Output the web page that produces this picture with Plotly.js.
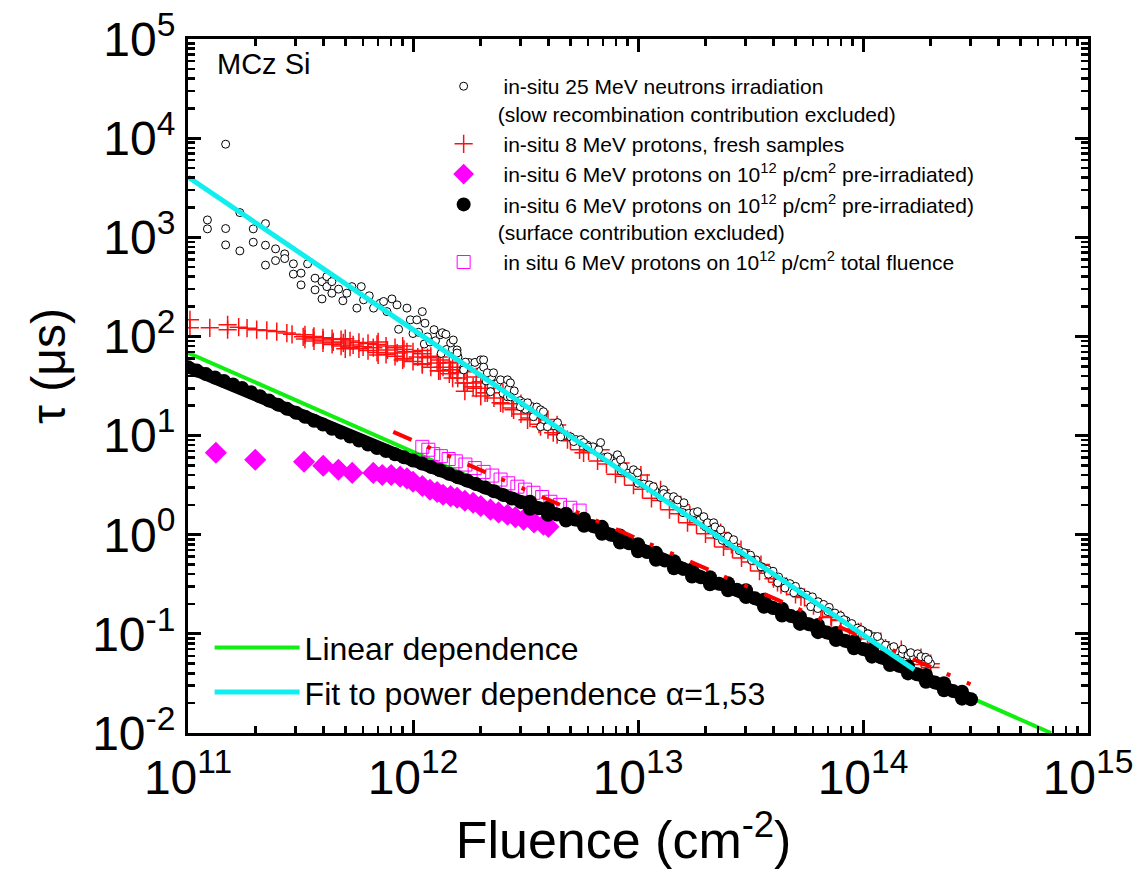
<!DOCTYPE html>
<html>
<head>
<meta charset="utf-8">
<script src="https://cdn.plot.ly/plotly-3.0.1.min.js"></script>
<style>html,body{margin:0;padding:0;background:#fff}#chart{width:1138px;height:876px}</style>
</head>
<body>
<div id="chart"></div>
<script>
// ---- 25 MeV neutrons (open circles): scattered early part ----
const neutronX = [1.22e11,1.22e11,1.47e11,1.47e11,1.47e11,1.70e11,1.70e11,1.95e11,1.95e11,2.21e11,2.21e11,2.21e11,
 2.45e11,2.45e11,2.69e11,2.69e11,2.94e11,2.94e11,3.18e11,3.18e11,3.40e11,3.67e11,3.67e11,3.94e11,3.94e11,4.14e11,4.14e11,
 4.36e11,4.36e11,4.67e11,4.88e11,5.08e11,5.35e11,5.63e11,5.89e11,6.03e11,6.39e11,6.68e11,7.15e11,7.40e11,7.66e11,8.06e11,
 8.49e11,8.63e11,9.40e11,9.73e11,1.04e12,1.10e12,1.13e12,1.16e12,1.24e12,1.32e12,1.35e12,1.40e12,1.47e12,1.51e12,1.57e12,
 1.57e12,1.68e12,1.71e12,2.00e12,2.06e12,2.06e12,2.14e12,2.21e12,2.28e12,2.45e12,2.63e12,2.63e12,2.71e12,2.71e12,3.00e12,
 3.10e12,3.23e12,3.43e12,3.69e12,3.69e12,3.80e12,3.96e12,4.39e12,4.53e12,5.18e12,5.56e12,5.73e12,5.97e12,6.82e12,7.33e12,
 8.10e12,8.37e12,8.63e12,9.55e12,9.95e12,1.17e13,1.30e13,1.30e13,1.35e13,1.44e13,1.50e13,1.60e13,1.77e13,1.84e13,1.96e13,
 2.04e13,2.17e13,2.20e13,2.33e13,2.51e13,2.66e13,2.95e13,3.20e13,3.52e13,3.80e13,4.18e13,4.50e13,4.93e13,5.86e13,6.30e13,
 6.98e13,8.22e13,9.80e13,1.05e14,1.16e14,1.37e14,1.50e14,1.63e14,1.75e14,1.81e14,1.90e14,1.95e14];
const neutronY = [1496,1216,8690,1225,838,1775,729,1216,892,1374,832,524,
 764,582,680,610,540,425,435,331,540,387,295,357,239,318,402,
 357,273,300,229,273,318,193,318,234,257,193,216,225,178,239,
 208,118,193,147,147,178,136,99,117,104,109,105,86,92,73,
 68,46,55,58,58,49,43,27.7,43,36.5,36.5,24.6,34,24.6,19.5,
 21.4,21.4,15.5,18.2,12.3,17.4,12.3,13.5,9.7,8.7,9.1,8.5,7.7,8.5,6.1,
 6.4,5.7,4.85,4.52,4.22,3.05,2.84,2.6,2.42,2.42,2.25,2.1,1.67,1.71,1.52,
 1.32,1.32,1.2,1.12,0.955,0.89,0.66,0.55,0.475,0.40,0.328,0.29,0.26,0.188,0.18,
 0.168,0.139,0.11,0.10,0.094,0.0743,0.07,0.0646,0.063,0.059,0.058,0.055];
// ---- 25 MeV neutrons: dense chain 1e12 .. 2e14 ----
const neutronChainX = [1.000e12,1.059e12,1.122e12,1.189e12,1.259e12,1.334e12,1.413e12,1.496e12,1.585e12,1.679e12,
 1.778e12,1.884e12,1.995e12,2.113e12,2.239e12,2.371e12,2.512e12,2.661e12,2.818e12,2.985e12,
 3.162e12,3.350e12,3.548e12,3.758e12,3.981e12,4.217e12,4.467e12,4.732e12,5.012e12,5.309e12,
 5.623e12,5.957e12,6.310e12,6.683e12,7.079e12,7.499e12,7.943e12,8.414e12,8.913e12,9.441e12,
 1.000e13,1.059e13,1.122e13,1.189e13,1.259e13,1.334e13,1.413e13,1.496e13,1.585e13,1.679e13,
 1.778e13,1.884e13,1.995e13,2.113e13,2.239e13,2.371e13,2.512e13,2.661e13,2.818e13,2.985e13,
 3.162e13,3.350e13,3.548e13,3.758e13,3.981e13,4.217e13,4.467e13,4.732e13,5.012e13,5.309e13,
 5.623e13,5.957e13,6.310e13,6.683e13,7.079e13,7.499e13,7.943e13,8.414e13,8.913e13,9.441e13,
 1.000e14,1.059e14,1.122e14,1.189e14,1.259e14,1.334e14,1.413e14,1.496e14,1.585e14,1.679e14,
 1.778e14,1.884e14,1.995e14];
const neutronChainY = [107,110,83.8,87.9,90.4,67.3,74.0,74.3,62.1,48.4,
 54.5,54.7,44.7,35.6,39.2,33.5,26.7,29.4,28.2,22.5,
 18.4,19.7,19.4,15.8,12.6,12.6,12.1,10.1,9.7,9.1,
 8.5,8.0,7.7,7.2,6.0,5.9,5.3,4.4,4.2,4.05,
 3.3,3.24,3.18,2.78,2.38,2.44,2.34,2.0,1.67,1.64,
 1.61,1.41,1.2,1.12,0.984,0.879,0.826,0.791,0.692,0.649,
 0.622,0.557,0.475,0.446,0.428,0.374,0.334,0.321,0.301,0.263,
 0.246,0.236,0.211,0.198,0.185,0.162,0.152,0.136,0.127,0.114,
 0.107,0.100,0.0938,0.082,0.0769,0.0719,0.0675,0.0632,0.0607,0.058,
 0.0557,0.0522,0.050];

// ---- 8 MeV protons, fresh (red plus) ----
const freshX = [1.02e11,1.02e11,1.25e11,1.50e11,1.50e11,1.68e11,1.83e11,2.02e11,2.24e11,2.48e11,2.75e11,2.90e11,3.25e11,
 3.60e11,3.99e11,4.42e11,4.90e11,5.00e11,5.00e11,5.42e11,6.00e11,6.66e11,7.00e11,7.00e11,7.70e11,8.50e11,9.00e11,9.00e11,
 9.40e11,1.05e12,1.10e12,1.10e12,1.16e12,1.28e12,1.30e12,1.30e12,1.36e12,1.47e12,1.50e12,1.50e12,1.57e12,1.68e12,1.70e12,
 1.70e12,1.85e12,2.00e12,2.00e12,2.14e12,2.45e12,2.80e12,3.23e12,3.69e12,4.20e12,4.86e12,5.73e12,6.82e12,8.37e12,1.03e13,
 1.10e13,1.26e13,1.55e13,1.70e13,1.90e13,2.33e13,2.60e13,2.87e13,3.52e13,4.00e13,4.32e13,5.30e13,6.50e13,7.20e13,7.98e13,
 9.80e13,1.20e14,1.48e14,1.81e14,2.00e14];
const freshY = [147,122,122,131,117,124,121,117,115,112,108,105,99,
 97,92,88,86,95,75,82,78.5,77,88,65,73,68,80,58,
 70,62,72,52,61,54,62,45,49,46,55,38,43,34,45,
 28,31,35,25,27,21.4,18.2,14.4,12.3,10.7,9.1,6.7,7.2,5.3,4.0,
 3.3,2.84,2.0,1.6,1.42,1.05,0.8,0.706,0.5,0.36,0.313,0.237,0.184,0.15,0.139,
 0.105,0.0834,0.0693,0.0575,0.05];
// band of the transition region (upper and lower readings at each fluence)
const freshBandX = [3.31e11,3.63e11,3.98e11,4.37e11,4.79e11,5.25e11,5.75e11,6.31e11,6.92e11,7.59e11,8.32e11,9.12e11,1.00e12,
 1.10e12,1.20e12,1.32e12,1.45e12,1.58e12,1.74e12,1.91e12,2.09e12,2.29e12,2.51e12,2.75e12,3.02e12,3.31e12,3.63e12,3.98e12,4.37e12];
const freshBandHi = [104,100,97,95,93,90,87,85,83,80,77,74,70,67,63,58,54,49,44,39,34,30,27,24,21,19,16.5,14.5,12.8];
const freshBandLo = [94,90,86,83,80,78,75,72,69,66,63,60,56,53,49,45,42,38,34,30,27,24,21,19,16.5,15,13,11.5,10.2];
// descending part, just under the neutron chain
const freshTailX = [5.01e12,5.50e12,6.03e12,6.61e12,7.24e12,7.94e12,8.71e12,9.55e12,1.047e13,1.148e13,1.259e13,1.380e13,
 1.514e13,1.660e13,1.820e13,1.995e13,2.188e13,2.399e13,2.630e13,2.884e13,3.162e13,3.467e13,3.802e13,4.169e13,4.571e13,
 5.012e13,5.495e13,6.026e13,6.607e13,7.244e13,7.943e13,8.710e13,9.550e13,1.047e14,1.148e14,1.259e14,1.380e14,1.514e14,
 1.660e14,1.820e14,1.995e14];
const freshTailY = [8.87,7.18,7.0,5.55,5.16,4.08,3.89,3.16,2.87,2.33,2.22,1.79,
 1.63,1.32,1.26,1.02,0.929,0.753,0.718,0.582,0.53,0.43,0.409,0.331,0.301,
 0.25,0.233,0.193,0.176,0.146,0.136,0.112,0.105,0.0889,0.0809,0.0718,0.0638,0.058,
 0.0528,0.0492,0.0457];

// ---- 6 MeV protons on pre-irradiated (magenta diamonds) ----
const preX = [1.33e11,1.99e11,3.28e11,3.99e11,4.66e11,5.37e11,6.66e11,7.30e11,8.00e11,8.77e11,9.40e11,1.00e12,1.10e12,
 1.19e12,1.28e12,1.36e12,1.47e12,1.57e12,1.70e12,1.85e12,2.00e12,2.21e12,2.40e12,2.63e12,2.85e12,3.10e12,3.45e12,3.80e12,4.00e12];
const preY = [6.7,5.7,5.44,4.97,4.52,4.2,4.2,4.0,4.0,3.85,3.7,3.42,3.1,
 2.84,2.7,2.53,2.45,2.36,2.2,2.1,1.95,1.79,1.68,1.59,1.5,1.42,1.33,1.26,1.2];

// ---- 6 MeV protons, surface contribution excluded (black dots) ----
const surfX = [1.000e11,1.096e11,1.202e11,1.318e11,1.445e11,1.585e11,1.738e11,1.905e11,2.089e11,2.291e11,2.512e11,2.754e11,
 3.020e11,3.311e11,3.631e11,3.981e11,4.365e11,4.786e11,5.248e11,5.754e11,6.310e11,6.918e11,7.586e11,8.318e11,9.120e11,
 1.000e12,1.096e12,1.202e12,1.318e12,1.445e12,1.585e12,1.738e12,1.905e12,2.089e12,2.291e12,2.512e12,2.754e12,
 3.020e12,3.311e12,3.631e12,3.981e12,4.365e12,4.786e12,5.248e12,5.754e12,6.310e12,6.918e12,7.586e12,8.318e12,9.120e12,
 1.000e13,1.096e13,1.202e13,1.318e13,1.445e13,1.585e13,1.738e13,1.905e13,2.089e13,2.291e13,2.512e13,2.754e13,
 3.020e13,3.311e13,3.631e13,3.981e13,4.365e13,4.786e13,5.248e13,5.754e13,6.310e13,6.918e13,7.586e13,8.318e13,9.120e13,
 1.000e14,1.096e14,1.202e14,1.318e14,1.445e14,1.585e14,1.738e14,1.905e14,2.089e14,2.291e14,2.512e14,2.754e14,3.020e14];
const surfY = [49.0,45.2,41.7,38.5,35.6,32.8,30.2,27.4,24.9,22.6,20.5,18.6,
 17.0,15.5,14.1,12.9,11.7,10.7,9.77,8.91,8.13,7.48,6.97,6.49,6.03,
 5.61,5.22,4.83,4.47,4.12,3.80,3.52,3.24,2.99,2.74,2.52,2.32,
 2.13,1.98,1.85,1.72,1.60,1.50,1.42,1.34,1.22,1.11,1.00,0.904,0.818,
 0.740,0.668,0.605,0.548,0.498,0.452,0.410,0.372,0.343,0.320,0.299,0.279,
 0.255,0.228,0.204,0.182,0.166,0.151,0.137,0.125,0.113,0.103,0.0938,0.0853,0.0775,
 0.0703,0.0638,0.0579,0.0525,0.0476,0.0432,0.0392,0.0356,0.0323,0.0293,0.0265,0.0241,0.0219];
// upper and lower edges of the black band where it widens
const surfEdgeX = [3.311e12,3.981e12,4.786e12,5.754e12,6.918e12,8.318e12,1.000e13,1.202e13,1.445e13,1.738e13,2.089e13,
 2.512e13,3.020e13,3.631e13,4.365e13,5.248e13,6.310e13,7.586e13,9.120e13,1.096e14,1.318e14,1.585e14,1.905e14,2.291e14,2.754e14];
const surfEdgeHi = [2.15,1.87,1.63,1.45,1.20,0.98,0.80,0.656,0.540,0.445,0.372,
 0.324,0.276,0.221,0.179,0.149,0.123,0.102,0.0839,0.0692,0.0569,0.0469,0.0385,0.0318,0.0261];
const surfEdgeLo = [1.83,1.59,1.39,1.23,1.02,0.834,0.682,0.558,0.459,0.378,0.316,
 0.275,0.235,0.188,0.153,0.126,0.104,0.0865,0.0714,0.0589,0.0484,0.0399,0.0328,0.0270,0.0222];

// ---- 6 MeV protons, total fluence (magenta open squares) ----
const totX = [1.10e12,1.17e12,1.23e12,1.33e12,1.44e12,1.55e12,1.71e12,1.88e12,2.06e12,2.25e12,2.45e12,2.65e12,2.91e12,
 3.15e12,3.43e12,3.75e12,4.08e12,4.50e12,5.00e12,5.50e12];
const totY = [7.7,7.2,6.5,6.2,5.8,5.5,5.1,4.7,4.3,3.95,3.6,3.3,3.05,
 2.85,2.65,2.4,2.15,2.0,1.87,1.75];

// ---- reference lines (end points) ----
const linearX = [1e11, 6.85e14];
const linearY = [68.5, 0.01];
const powerX = [1e11, 1.69e14];
const powerY = [4060, 0.0436];
const dashX = [8.17e11, 3.25e14];
const dashY = [10.9, 0.0287];

const xTickVals = [1e11,1e12,1e13,1e14,1e15];
const xTickText = ['10<sup>11</sup>','10<sup>12</sup>','10<sup>13</sup>','10<sup>14</sup>','10<sup>15</sup>'];
const yTickVals = [1e-2,1e-1,1,10,100,1e3,1e4,1e5];
const yTickText = ['10<sup>-2</sup>','10<sup>-1</sup>','10<sup>0</sup>','10<sup>1</sup>','10<sup>2</sup>','10<sup>3</sup>','10<sup>4</sup>','10<sup>5</sup>'];

const FONT = 'Arial, "Liberation Sans", sans-serif';
const surfMarker = {symbol:'circle', size:14, color:'#000000', line:{width:0}};
const freshMarker = {symbol:'cross-thin', size:13, color:'#ff1010', line:{width:1.5, color:'#ff1010'}};
const neutronMarker = {symbol:'circle', size:8, color:'#ffffff', line:{width:1, color:'#000000'}};

const traces = [
 {x: linearX, y: linearY, type:'scatter', mode:'lines', legend:'legend2', legendrank:1,
  name:'Linear dependence', line:{color:'#11ee11', width:4}},
 {x: preX, y: preY, type:'scatter', mode:'markers', legendrank:3,
  name:'&nbsp;in-situ 6 MeV protons on 10<sup>12</sup> p/cm<sup>2</sup> pre-irradiated)',
  marker:{symbol:'diamond', size:17, color:'#ff00ff', line:{width:0}}},
 {x: totX, y: totY, type:'scatter', mode:'markers', legendrank:5,
  name:'&nbsp;in situ 6 MeV protons on 10<sup>12</sup> p/cm<sup>2</sup> total fluence',
  marker:{symbol:'square-open', size:13, color:'#ff00ff', line:{width:1}}},
 {x: freshBandX, y: freshBandHi, type:'scatter', mode:'markers', showlegend:false, marker:freshMarker},
 {x: freshBandX, y: freshBandLo, type:'scatter', mode:'markers', showlegend:false, marker:freshMarker},
 {x: freshTailX, y: freshTailY, type:'scatter', mode:'markers', showlegend:false, marker:freshMarker},
 {x: freshX, y: freshY, type:'scatter', mode:'markers', legendrank:2,
  name:'&nbsp;in-situ 8 MeV protons, fresh samples', marker:freshMarker},
 {x: neutronChainX, y: neutronChainY, type:'scatter', mode:'markers', showlegend:false, marker:neutronMarker},
 {x: neutronX, y: neutronY, type:'scatter', mode:'markers', legendrank:1,
  name:'&nbsp;in-situ 25 MeV neutrons irradiation<br>(slow recombination contribution excluded)', marker:neutronMarker},
 {x: surfX, y: surfY, type:'scatter', mode:'lines', showlegend:false, hoverinfo:'skip',
  line:{color:'#000000', width:12}},
 {x: surfEdgeX, y: surfEdgeHi, type:'scatter', mode:'markers', showlegend:false, marker:surfMarker},
 {x: surfEdgeX, y: surfEdgeLo, type:'scatter', mode:'markers', showlegend:false, marker:surfMarker},
 {x: surfX, y: surfY, type:'scatter', mode:'markers', legendrank:4,
  name:'&nbsp;in-situ 6 MeV protons on 10<sup>12</sup> p/cm<sup>2</sup> pre-irradiated)<br>(surface contribution excluded)',
  marker:surfMarker},
 {x: dashX, y: dashY, type:'scatter', mode:'lines', showlegend:false,
  line:{color:'#ff0000', width:4, dash:'20px,17px,4px,18px,4px,18px'}},
 {x: powerX, y: powerY, type:'scatter', mode:'lines', legend:'legend2', legendrank:2,
  name:'Fit to power dependence α=1,53', line:{color:'#11eeee', width:5}}
];

const axisCommon = {
  type:'log', showgrid:false, zeroline:false, showline:true, linewidth:3, linecolor:'#000',
  mirror:'allticks', ticks:'inside', ticklen:13, tickwidth:3, tickcolor:'#000',
  tickmode:'array', tickfont:{family:FONT, size:48, color:'#000'},
  minor:{ticks:'inside', ticklen:7, tickwidth:2.5, tickcolor:'#000', dtick:'D1', showgrid:false}
};

const layout = {
  width:1138, height:876,
  margin:{l:188, r:50, t:39, b:143},
  paper_bgcolor:'#fff', plot_bgcolor:'#fff',
  font:{family:FONT, color:'#000'},
  showlegend:true,
  xaxis: Object.assign({}, axisCommon, {
    range:[11,15], tickvals:xTickVals, ticktext:xTickText,
    title:{text:'Fluence (cm<sup>-2</sup>)&nbsp;&nbsp;', font:{family:FONT, size:52, color:'#000'}, standoff:10}
  }),
  yaxis: Object.assign({}, axisCommon, {
    range:[-2,5], tickvals:yTickVals, ticktext:yTickText,
    title:{text:'&nbsp;&nbsp;&nbsp;τ (μs)', font:{family:FONT, size:48, color:'#000'}, standoff:12}
  }),
  legend:{x:0.2685, y:0.961, xanchor:'left', yanchor:'top', bgcolor:'rgba(0,0,0,0)', borderwidth:0,
    font:{family:FONT, size:21, color:'#000'}, valign:'top', itemwidth:58, traceorder:'normal', tracegroupgap:0},
  legend2:{x:0.024, y:0.1625, xanchor:'left', yanchor:'top', bgcolor:'rgba(0,0,0,0)', borderwidth:0,
    font:{family:FONT, size:32, color:'#000'}, itemwidth:85, traceorder:'normal'},
  annotations:[
    {text:'MCz Si', xref:'paper', yref:'paper', x:0.03, y:0.964, xanchor:'left', yanchor:'middle',
     showarrow:false, font:{family:FONT, size:29, color:'#000'}}
  ]
};

Plotly.newPlot('chart', traces, layout, {displayModeBar:false, staticPlot:true});
</script>
</body>
</html>
